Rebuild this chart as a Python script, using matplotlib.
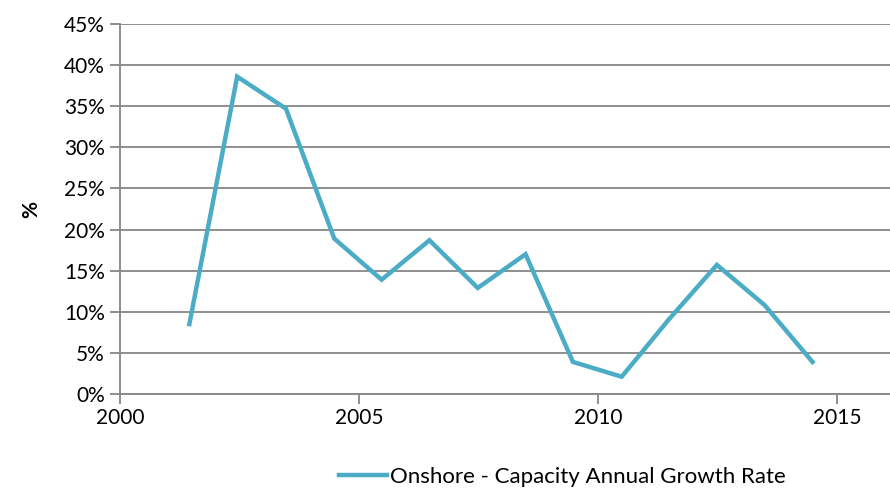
import numpy as np
import matplotlib.pyplot as plt
from matplotlib.ticker import FuncFormatter

# datos
years = [2001.45, 2002.45, 2003.47, 2004.48, 2005.47, 2006.47, 2007.48,
         2008.48, 2009.47, 2010.49, 2011.48, 2012.48, 2013.48, 2014.48]
growth = [8.5, 38.6, 34.7, 18.9, 13.9, 18.7, 12.9,
          17.0, 3.9, 2.1, 9.1, 15.7, 10.8, 3.9]
xticks = [2000, 2005, 2010, 2015]
series_name = 'Onshore - Capacity Annual Growth Rate'

plt.rcParams['font.family'] = ['Lato', 'DejaVu Sans']
grid_col = '#868686'

fig = plt.figure(figsize=(8.9, 4.88), dpi=100)
ax = fig.add_axes([120/890, 1 - 394/488, 770/890, 370/488])

ax.plot(years, growth, color='#4BACC6', linewidth=3.2,
        solid_joinstyle='miter', label=series_name)

ax.set_ylim(0, 45)
ax.set_yticks(np.arange(0, 46, 5))
ax.yaxis.set_major_formatter(FuncFormatter(lambda v, p: '%d%%' % v))
ax.set_xlim(2000, 2016.1)
ax.set_xticks(xticks)

ax.grid(True, axis='y', color=grid_col, linewidth=1.3)
ax.set_axisbelow(True)
for s in ['top', 'right']:
    ax.spines[s].set_visible(False)
for s in ['left', 'bottom']:
    ax.spines[s].set_color(grid_col)
    ax.spines[s].set_linewidth(1.3)
ax.tick_params(axis='both', color=grid_col, width=1.3, length=7,
               labelsize=15, labelcolor='black')
ax.tick_params(axis='x', pad=3)
ax.tick_params(axis='y', pad=4)

ax.set_ylabel('%', fontsize=15, fontweight='bold', labelpad=16)

fig.legend(loc='center', bbox_to_anchor=(562/890, 1 - 477/488),
           frameon=False, fontsize=16, handlelength=2.2, handletextpad=0.1)

fig.savefig('out.png', dpi=100)
